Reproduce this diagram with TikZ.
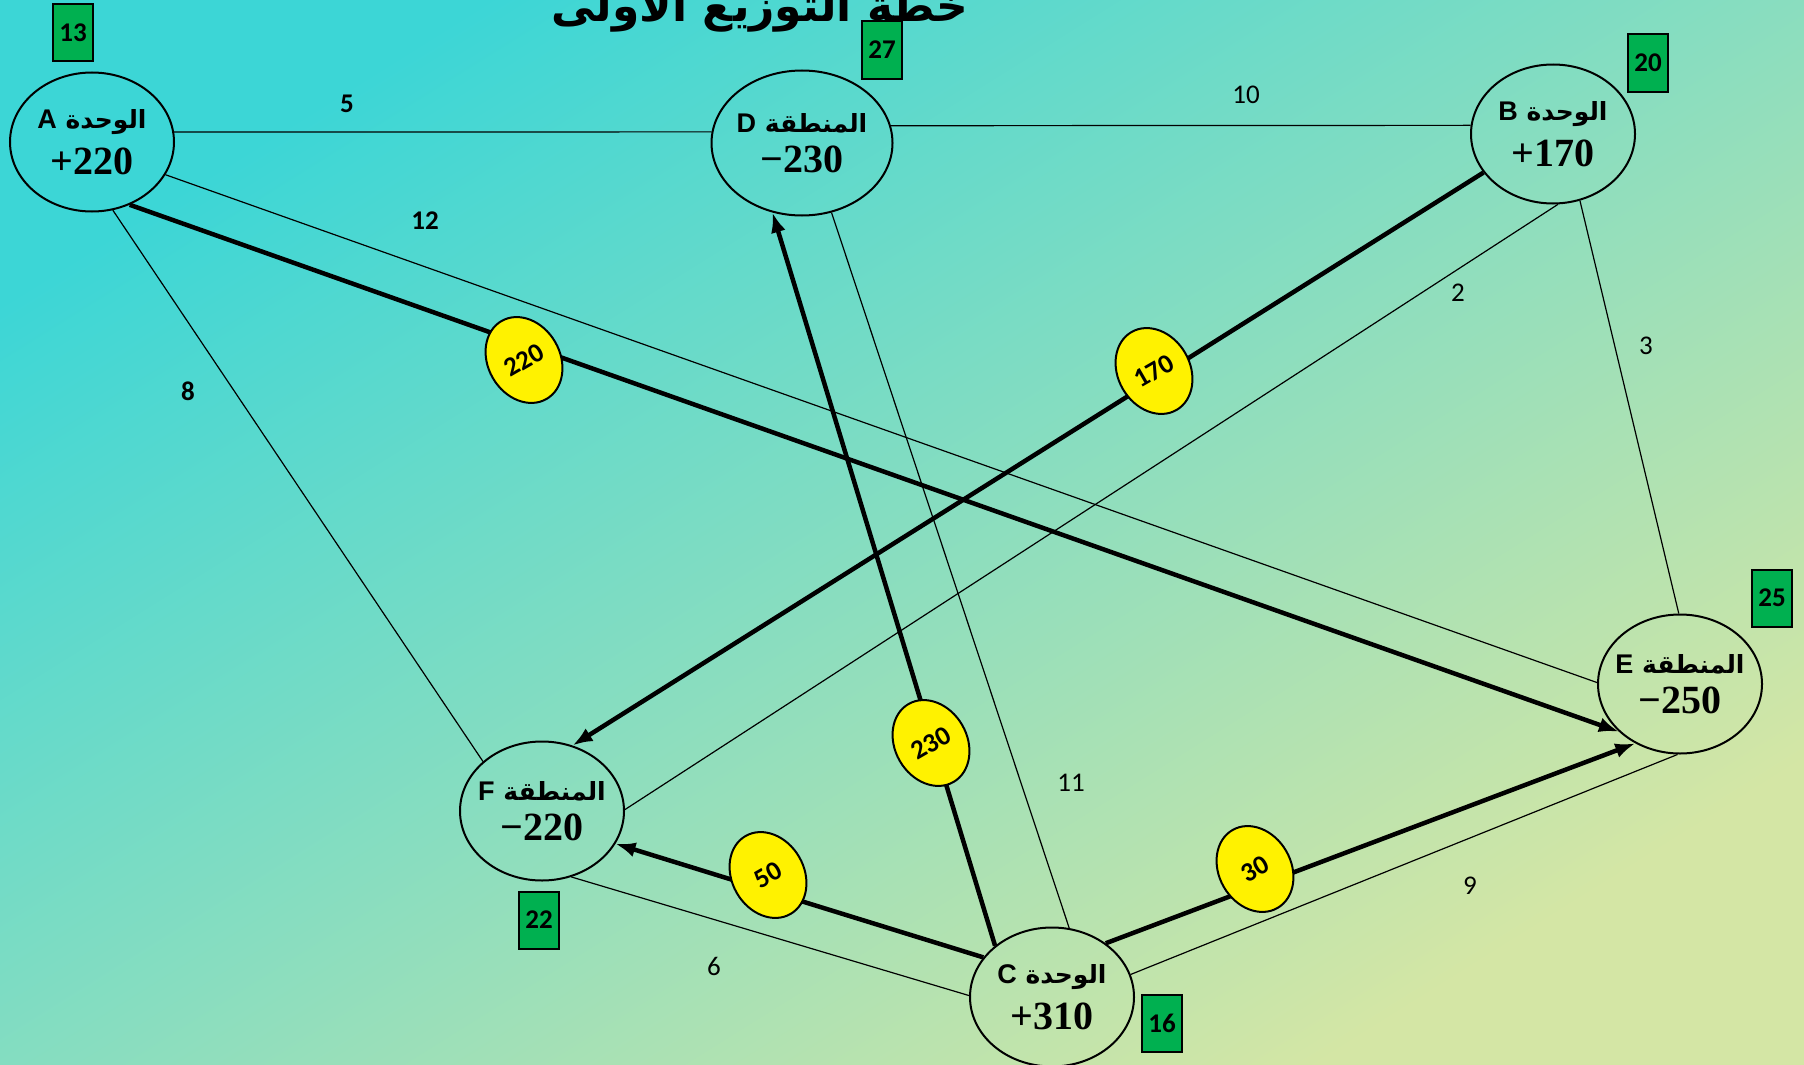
\documentclass[tikz,border=0pt]{standalone}
\usepackage{fontspec}
\setmainfont{Liberation Serif}
\newfontfamily\arabicfont[Script=Arabic]{DejaVu Sans}
\newfontfamily\calfont{Carlito}
\newfontfamily\arialfont{Liberation Sans}
\TeXXeTstate=1
\usetikzlibrary{shapes.geometric, arrows.meta}

\definecolor{bgtop}{RGB}{60,214,214}
\definecolor{bgmid}{RGB}{135,221,192}
\definecolor{bgbot}{RGB}{212,230,165}
\definecolor{costgreen}{RGB}{0,176,80}

\newcommand{\sitelabel}[3]{\makebox[0pt]{\arabicfont\bfseries\fontsize{25}{30}\selectfont\beginR #1 {\arialfont\bfseries\fontsize{27}{30}\selectfont #2}\endR}\\[12pt]\makebox[0pt]{\bfseries\fontsize{40}{44}\selectfont #3}}

\begin{document}
\begin{tikzpicture}[x=1pt, y=-1pt,
    site/.style={draw, ellipse, line width=2pt, minimum width=164pt, minimum height=139pt, align=center, inner sep=0pt},
    cell/.style={draw, fill=costgreen, line width=2pt, minimum width=40pt, minimum height=57pt, inner sep=0pt, font=\calfont\bfseries\fontsize{27}{30}\selectfont},
    flow/.style={draw, ellipse, fill=yellow, line width=2pt, minimum width=72pt, minimum height=90pt, inner sep=0pt, rotate=30, font=\calfont\bfseries\fontsize{27}{30}\selectfont},
    link/.style={line width=1.2pt},
    flowarrow/.style={line width=4.5pt, -{Latex[length=20pt,width=15pt]}},
    cost/.style={font=\calfont\fontsize{27}{30}\selectfont},
    costb/.style={font=\calfont\bfseries\fontsize{27}{30}\selectfont},
]

\shade[top color=bgtop, bottom color=bgbot, middle color=bgmid, shading angle=32] (0,0) rectangle (1804,1065);
\useasboundingbox (0,0) rectangle (1804,1065);

\node[anchor=base, font=\arabicfont\bfseries\fontsize{44}{50}\selectfont] (title) at (760,22) {\beginR خطة التوزيع الأولى\endR};

% sources and regions
\node[site] (A) at (92,142) {\sitelabel{الوحدة}{A}{+220}};
\node[site, minimum width=181pt, minimum height=145pt] (D) at (802,143) {\sitelabel{المنطقة}{D}{−230}};
\node[site] (B) at (1553,134) {\sitelabel{الوحدة}{B}{+170}};
\node[site] (E) at (1680,684) {\sitelabel{المنطقة}{E}{−250}};
\node[site] (F) at (542,811) {\sitelabel{المنطقة}{F}{−220}};
\node[site] (C) at (1052,997) {\sitelabel{الوحدة}{C}{+310}};

% potentials
\node[cell] (gA) at (73,33) {13};
\node[cell] (gD) at (882,50) {27};
\node[cell] (gB) at (1648,63) {20};
\node[cell] (gE) at (1772,598) {25};
\node[cell] (gF) at (539,920) {22};
\node[cell] (gC) at (1162,1023) {16};

% routes
\draw[link] (A.7) -- (D.173);
\draw[link] (D.11) -- (B.174);
\draw[link] (A.-24) -- (E.179);
\draw[link] (A.-73) -- (F.140);
\draw[link] (B.-86) -- (F.1);
\draw[link] (B.-68) -- (E.91);
\draw[link] (D.-67) -- (C.76);
\draw[link] (C.16) -- (E.-92);
\draw[link] (F.-66) -- (C.179);

\node[costb] (c5) at (347,104) {5};
\node[cost] (c10) at (1246,95) {10};
\node[costb] (c12) at (425,221) {12};
\node[costb] (c8) at (188,391) {8};
\node[cost] (c2) at (1458,293) {2};
\node[cost] (c3) at (1646,346) {3};
\node[cost] (c11) at (1071,783) {11};
\node[cost] (c9) at (1470,886) {9};
\node[cost] (c6) at (714,966) {6};

% shipments
\draw[flowarrow] (A.-59) -- (E.-142);
\draw[flowarrow] (B.209) -- (F.65);
\draw[flowarrow] (C.138) -- (D.-113);
\draw[flowarrow] (C.150) -- (F.-24);
\draw[flowarrow] (C.45) -- (E.-127);

\node[flow] (qAE) at (524,360) {220};
\node[flow] (qBF) at (1154,371) {170};
\node[flow] (qCD) at (931,743) {230};
\node[flow] (qCF) at (768,875) {50};
\node[flow] (qCE) at (1255,869) {30};

\end{tikzpicture}
\end{document}
